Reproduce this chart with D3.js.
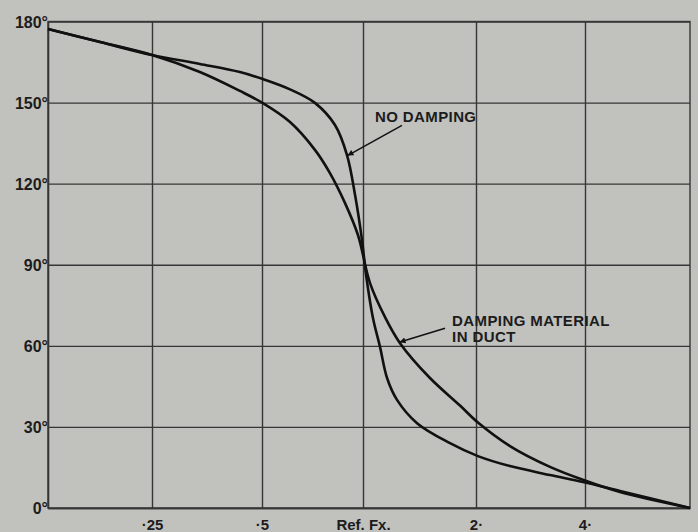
<!DOCTYPE html>
<html>
<head>
<meta charset="utf-8">
<script src="https://cdn.jsdelivr.net/npm/d3@7"></script>
<style>
  body { margin: 0; background: #c1c1be; }
  text { font-family: "Liberation Sans", Arial, sans-serif; font-weight: bold; fill: #1c1c1c; }
</style>
</head>
<body>
<script>
// axis ticks
const freqTicks = [0.25, 0.5, 1, 2, 4];
const freqLabels = ["\u00B725", "\u00B75", "Ref. Fx.", "2\u00B7", "4\u00B7"];
const phaseTicks = [0, 30, 60, 90, 120, 150, 180];
const phaseLabels = ["0\u00B0", "30\u00B0", "60\u00B0", "90\u00B0", "120\u00B0", "150\u00B0", "180\u00B0"];

// no damping curve (frequency relative to ref, phase in degrees)
const noDampFreq = [0.125, 0.177, 0.25, 0.338, 0.435, 0.503, 0.606, 0.719, 0.825, 0.896, 0.947, 0.993, 1.019, 1.063, 1.11, 1.159, 1.232, 1.393, 1.705, 2.025, 2.482, 3.202, 3.95, 5.04, 8];
const noDampPhase = [177.2, 172.4, 167.6, 164.3, 161.3, 158.7, 154.9, 149.9, 141.7, 130.6, 115.8, 99.2, 86.2, 70.3, 59.6, 48.1, 40, 31.4, 24, 19.2, 15.5, 12.2, 9.6, 6.3, 0];

// damping material in duct
const dampFreq = [0.125, 0.177, 0.25, 0.338, 0.435, 0.503, 0.606, 0.719, 0.797, 0.884, 0.966, 1.044, 1.144, 1.255, 1.508, 1.813, 2.025, 2.482, 3.202, 3.95, 5.04, 8];
const dampPhase = [177.2, 172.4, 167.6, 161.3, 154.3, 149.8, 142.8, 132.5, 123.9, 112.8, 101, 83.2, 70.7, 61, 48.1, 37.9, 31.6, 22.9, 15.2, 10.4, 5.9, 0];

// annotations: text lines, text anchor, arrow tail and tip (freq, phase)
const noteText = [["NO DAMPING"], ["DAMPING MATERIAL", "IN DUCT"]];
const noteAt = [[1.076, 142.7], [1.727, 67.3]];
const noteTail = [[1.27, 141.6], [1.654, 66.5]];
const noteTip = [[0.902, 130.5], [1.255, 61.4]];

const canvWidth = 698, canvHeight = 532;
const margin = {top: 21.5, right: 8, bottom: 24, left: 48};
const width = canvWidth - margin.left - margin.right;
const height = canvHeight - margin.top - margin.bottom;

const svg = d3.select("body").append("svg")
    .attr("width", canvWidth)
    .attr("height", canvHeight);

svg.append("rect")
    .attr("width", canvWidth)
    .attr("height", canvHeight)
    .attr("fill", "#c1c1be");

const g = svg.append("g")
    .attr("transform", "translate(" + margin.left + "," + margin.top + ")");

// hand drawn log axis, octaves are not quite equal so use a piecewise log scale
const x = d3.scaleLog()
    .domain([0.125, 0.25, 0.5, 1, 2, 4, 8])
    .range([0, 104, 214, 315, 428, 537, width]);

const y = d3.scaleLinear()
    .domain([0, 180])
    .range([height, 0]);

// grid + axes
const xAxis = g.append("g")
    .attr("transform", "translate(0," + height + ")")
    .call(d3.axisBottom(x)
        .tickValues(freqTicks)
        .tickFormat((d, i) => freqLabels[i])
        .tickSizeInner(-height)
        .tickSizeOuter(0)
        .tickPadding(11));

const yAxis = g.append("g")
    .call(d3.axisLeft(y)
        .tickValues(phaseTicks)
        .tickFormat((d, i) => phaseLabels[i])
        .tickSizeInner(-width)
        .tickSizeOuter(0)
        .tickPadding(0));

[xAxis, yAxis].forEach(a => {
    a.selectAll("line").attr("stroke", "#363636").attr("stroke-width", 1.4);
    a.select(".domain").attr("stroke", "#363636").attr("stroke-width", 1.6);
    a.selectAll("text")
        .attr("font-family", "'Liberation Sans', Arial, sans-serif")
        .attr("font-weight", "bold")
        .attr("fill", "#1c1c1c");
});
xAxis.selectAll("text").attr("font-size", "15px");
yAxis.selectAll("text").attr("font-size", "16px").attr("dy", "0.36em");

// outer frame (top + right)
g.append("rect")
    .attr("width", width)
    .attr("height", height)
    .attr("fill", "none")
    .attr("stroke", "#363636")
    .attr("stroke-width", 1.4);

// curves
const line = d3.line()
    .x(d => x(d[0]))
    .y(d => y(d[1]))
    .curve(d3.curveCatmullRom.alpha(0.5));

const series = [
    d3.zip(noDampFreq, noDampPhase),
    d3.zip(dampFreq, dampPhase)
];

g.selectAll(".curve")
    .data(series)
    .join("path")
    .attr("class", "curve")
    .attr("d", line)
    .attr("fill", "none")
    .attr("stroke", "#111")
    .attr("stroke-width", 2.6);

// arrowhead
svg.append("defs").append("marker")
    .attr("id", "arrow")
    .attr("viewBox", "0 0 10 10")
    .attr("refX", 9)
    .attr("refY", 5)
    .attr("markerWidth", 9)
    .attr("markerHeight", 6)
    .attr("markerUnits", "userSpaceOnUse")
    .attr("orient", "auto")
    .append("path")
    .attr("d", "M0,0 L10,5 L0,10 z")
    .attr("fill", "#111");

// annotations
noteText.forEach((lines, i) => {
    g.append("line")
        .attr("x1", x(noteTail[i][0]))
        .attr("y1", y(noteTail[i][1]))
        .attr("x2", x(noteTip[i][0]))
        .attr("y2", y(noteTip[i][1]))
        .attr("stroke", "#111")
        .attr("stroke-width", 1.5)
        .attr("marker-end", "url(#arrow)");

    const t = g.append("text")
        .attr("x", x(noteAt[i][0]))
        .attr("y", y(noteAt[i][1]))
        .attr("font-size", "15px")
        .attr("letter-spacing", "0.4px");
    lines.forEach((s, j) => {
        t.append("tspan")
            .attr("x", x(noteAt[i][0]))
            .attr("dy", j === 0 ? 0 : "1.06em")
            .text(s);
    });
});
</script>
</body>
</html>
